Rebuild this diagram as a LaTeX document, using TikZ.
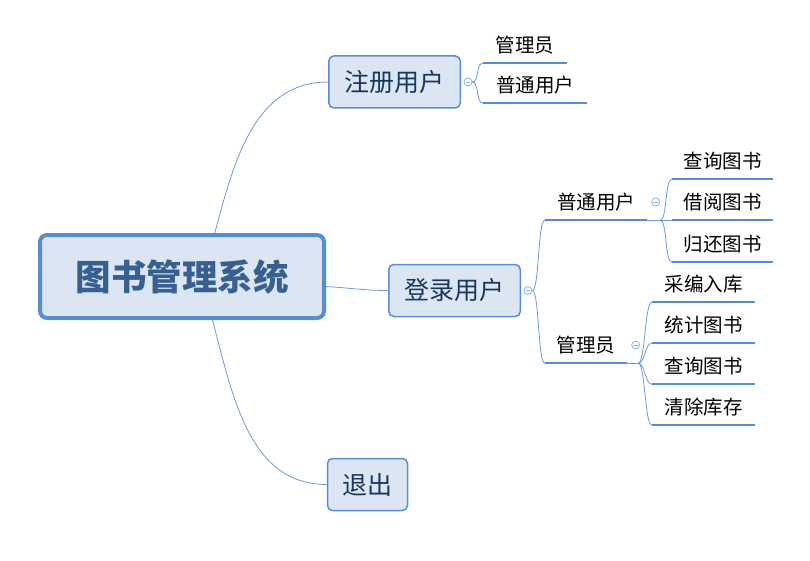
\documentclass[tikz,border=0pt]{standalone}
\usepackage{fontspec}
\setmainfont{Noto Sans CJK SC}
\usetikzlibrary{positioning}
\definecolor{lineblue}{RGB}{85,142,213}
\definecolor{thinblue}{RGB}{108,155,214}
\definecolor{boxfill}{RGB}{220,230,242}
\definecolor{boxtext}{RGB}{23,55,94}
\definecolor{roottext}{RGB}{55,96,146}
\definecolor{foldblue}{RGB}{141,179,226}
\tikzset{
  rootbox/.style={draw=lineblue,line width=4pt,fill=boxfill,rounded corners=7pt,
    minimum width=284pt,minimum height=83pt,text=roottext,
    font=\fontsize{35.5}{40}\selectfont\bfseries},
  mainbox/.style={draw=lineblue,line width=1.5pt,fill=boxfill,rounded corners=5pt,
    minimum height=52pt,inner xsep=0pt,text=boxtext,font=\fontsize{25}{30}\selectfont},
  topic/.style={minimum height=36pt,inner sep=0pt,font=\fontsize{19.5}{24}\selectfont},
  uline/.style={lineblue,line width=2.5pt},
  branch/.style={thinblue,line width=0.8pt},
  fold/.style={circle,draw=foldblue,fill=white,line width=0.8pt,minimum size=8pt,inner sep=0pt,
    path picture={\draw[foldblue,line width=0.8pt]
      ([xshift=-2.2pt]path picture bounding box.center) -- ([xshift=2.2pt]path picture bounding box.center);}}
}
\begin{document}
\begin{tikzpicture}[x=1pt,y=1pt,node distance=2.5pt]
  \useasboundingbox (0,0) rectangle (810,-561);
  % main topics
  \node[rootbox]                 (sys)   at (182,-276.5)  {图书管理系统};
  \node[mainbox,minimum width=131.5pt] (reg)   at (394.5,-82)   {注册用户};
  \node[mainbox,minimum width=131.5pt] (login) at (454.5,-290.5){登录用户};
  \node[mainbox,minimum width=80pt]    (quit)  at (367.5,-484.5){退出};
  \node[fold]  (regfold)   [right=of reg]   {};
  \node[fold]  (loginfold) [right=of login] {};
  % subtopics
  \node[topic,minimum width=84pt]  (regAdm) at (525,-45)   {管理员};
  \node[topic,minimum width=104pt] (regUsr) at (535,-85)   {普通用户};
  \node[topic,minimum width=102pt] (usr)    at (596,-202)  {普通用户};
  \node[topic,minimum width=82pt]  (adm)    at (586,-345)  {管理员};
  \node[fold]  (usrfold) [right=4pt of usr] {};
  \node[fold]  (admfold) [right=4pt of adm] {};
  \coordinate[right=13pt of usr.south east] (usrhub);
  \coordinate[right=11pt of adm.south east] (admhub);
  \node[topic,minimum width=101pt] (usrQ) at (722.5,-161) {查询图书};
  \node[topic,minimum width=101pt] (usrB) at (722.5,-202) {借阅图书};
  \node[topic,minimum width=101pt] (usrR) at (722.5,-244) {归还图书};
  \node[topic,minimum width=103pt] (admC) at (703.5,-284) {采编入库};
  \node[topic,minimum width=103pt] (admS) at (703.5,-325) {统计图书};
  \node[topic,minimum width=103pt] (admQ) at (703.5,-366) {查询图书};
  \node[topic,minimum width=103pt] (admD) at (703.5,-407) {清除库存};
  \foreach \n in {regAdm,regUsr,usr,adm,usrQ,usrB,usrR,admC,admS,admQ,admD}
    \draw[uline] (\n.south west) -- (\n.south east);
  % connectors
  \path (sys.53)  edge [branch,out=75,in=180]  (reg.west)
        (sys.-4)  edge [branch,out=-3,in=180]  (login.west)
        (sys.-55) edge [branch,out=-75,in=180] (quit.west);
  \tikzset{every edge/.append style={branch,out=0,in=180,distance=7pt}}
  \path (regfold.east)   edge (regAdm.south west)
        (regfold.east)   edge (regUsr.south west)
        (loginfold.east) edge (usr.south west)
        (loginfold.east) edge (adm.south west);
  \draw[branch] (usr.south east) -- (usrB.south west);
  \draw[branch] (adm.south east) -- (admhub);
  \path (usrhub) edge (usrQ.south west)
        (usrhub) edge (usrR.south west)
        (admhub) edge (admC.south west)
        (admhub) edge (admS.south west)
        (admhub) edge (admQ.south west)
        (admhub) edge (admD.south west);
\end{tikzpicture}
\end{document}
